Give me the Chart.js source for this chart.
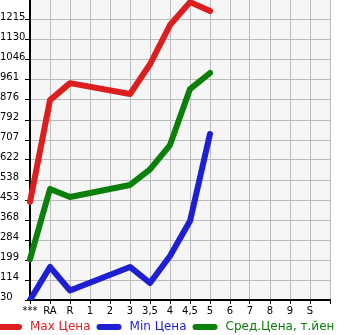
<!DOCTYPE html>
<html>
<head>
<meta charset="utf-8">
<style>
  html, body { margin: 0; padding: 0; background: #ffffff; }
  #wrap { width: 345px; height: 335px; }
</style>
<script src="https://cdn.jsdelivr.net/npm/chart.js@4/dist/chart.umd.min.js"></script>
</head>
<body>
<div id="wrap"><canvas id="c" width="345" height="335"></canvas></div>
<script>
// ---- data ----
const categories = ['***', 'RA', 'R', '1', '2', '3', '3,5', '4', '4,5', '5', '6', '7', '8', '9', 'S', ''];
const maxPrice = [445, 876, 948, null, null, 902, 1028, 1194, 1291, 1253, null, null, null, null, null, null];
const minPrice = [30, 170, 70, null, null, 170, 102, 216, 364, 733, null, null, null, null, null, null];
const avgPrice = [203, 500, 466, null, null, 517, 583, 686, 923, 991, null, null, null, null, null, null];
const seriesLabels = ['Max Цена', 'Min Цена', 'Сред.Цена, т.йен'];
const seriesColors = ['#dc1e1e', '#1e1ed2', '#0a800a'];
const yTickLabels = ['30', '114', '199', '284', '368', '453', '538', '622', '707', '792', '876', '961', '1046', '1130', '1215', null];
const Y_MIN = 30;
const Y_MAX = 1300;

const FONT = '"DejaVu Sans", Verdana, sans-serif';

const plotBg = {
  id: 'plotBg',
  beforeDraw(chart) {
    const { ctx, chartArea: a } = chart;
    ctx.save();
    ctx.fillStyle = '#f6f6f6';
    ctx.fillRect(a.left, a.top, a.right - a.left, a.bottom - a.top);
    ctx.restore();
  }
};

const bottomLegend = {
  id: 'bottomLegend',
  afterDraw(chart) {
    const ctx = chart.ctx;
    ctx.save();
    ctx.font = '12px ' + FONT;
    ctx.textBaseline = 'middle';
    ctx.textAlign = 'left';
    let x0 = -3;
    const y = 327;
    chart.data.datasets.forEach(ds => {
      ctx.strokeStyle = ds.borderColor;
      ctx.lineWidth = 6;
      ctx.lineCap = 'round';
      ctx.beginPath();
      ctx.moveTo(x0 + 3, y);
      ctx.lineTo(x0 + 22, y);
      ctx.stroke();
      ctx.fillStyle = ds.borderColor;
      ctx.fillText(ds.label, x0 + 33, y);
      x0 = x0 + 33 + ctx.measureText(ds.label).width + 6;
    });
    ctx.restore();
  }
};

const series = [maxPrice, minPrice, avgPrice];

new Chart(document.getElementById('c'), {
  type: 'line',
  data: {
    labels: categories,
    datasets: series.map((d, i) => ({
      label: seriesLabels[i],
      data: d,
      borderColor: seriesColors[i],
      backgroundColor: seriesColors[i],
      borderWidth: 6,
      borderCapStyle: 'round',
      borderJoinStyle: 'round',
      pointRadius: 0,
      tension: 0,
      spanGaps: true,
      fill: false
    }))
  },
  options: {
    responsive: false,
    animation: false,
    devicePixelRatio: 1,
    layout: { padding: { left: 0, right: 15, top: 0, bottom: 15 } },
    plugins: {
      legend: { display: false },
      tooltip: { enabled: false }
    },
    scales: {
      x: {
        type: 'category',
        offset: false,
        grid: {
          color: '#bbbbbb',
          lineWidth: 1,
          tickColor: '#000000',
          tickLength: 4,
          drawTicks: true
        },
        border: { color: '#000000', width: 2 },
        ticks: {
          autoSkip: false,
          maxRotation: 0,
          minRotation: 0,
          padding: 1,
          color: '#000000',
          font: { family: FONT, size: 10 }
        },
        afterFit(scale) { scale.height = 20; scale.paddingLeft = 0; scale.paddingRight = 0; }
      },
      y: {
        type: 'linear',
        min: Y_MIN,
        max: Y_MAX,
        grid: {
          color: '#bbbbbb',
          lineWidth: 1,
          tickColor: '#000000',
          tickLength: 5,
          drawTicks: true
        },
        border: { color: '#000000', width: 2 },
        afterBuildTicks(scale) {
          const step = (Y_MAX - Y_MIN) / (yTickLabels.length - 1);
          scale.ticks = yTickLabels.map((_, i) => ({ value: Y_MIN + i * step }));
        },
        ticks: {
          autoSkip: false,
          padding: 1,
          crossAlign: 'far',
          labelOffset: -3,
          color: '#000000',
          font: { family: FONT, size: 10 },
          callback: (v, i) => yTickLabels[i]
        },
        afterFit(scale) { scale.width = 30; scale.paddingTop = 0; scale.paddingBottom = 0; }
      }
    }
  },
  plugins: [plotBg, bottomLegend]
});
</script>
</body>
</html>
